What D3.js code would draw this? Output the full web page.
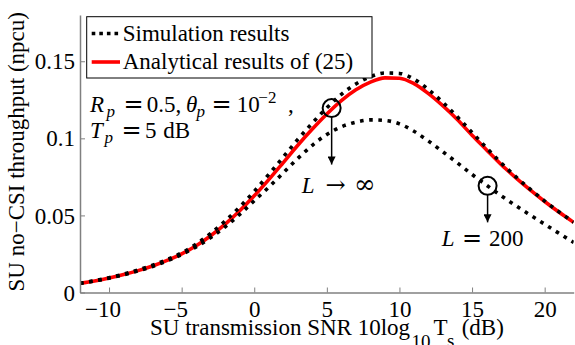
<!DOCTYPE html>
<meta charset="utf-8">
<script src="https://d3js.org/d3.v7.min.js"></script>
<style>
  body { margin: 0; background: #fff; }
  text { font-family: "Liberation Serif", "Times New Roman", serif; fill: #000; }
</style>
<body>
  <div id="container"></div>
</body>
<script>
    // SNR grid (dB) and the three curves
    var snr = [-12,-11,-10,-9,-8,-7,-6,-5,-4,-3,-2,-1,0,1,2,3,4,5,6,7,8,9,10,11,12,13,14,15,16,17,18,19,20,21,22];
    var analytic = [0.006,0.0075,0.0094,0.0116,0.0142,0.0172,0.0208,0.025,0.0303,0.0368,0.0443,0.053,0.0627,0.0732,0.0843,0.0955,0.106,0.1158,0.1245,0.1315,0.1365,0.1392,0.139,0.1355,0.129,0.121,0.112,0.102,0.0925,0.083,0.0745,0.0665,0.059,0.052,0.0455];
    var simInf = [0.006,0.0076,0.0096,0.0119,0.0146,0.0177,0.0214,0.0257,0.0314,0.0384,0.0464,0.0555,0.0656,0.0766,0.0879,0.0993,0.1099,0.1198,0.1285,0.1353,0.14,0.1424,0.1421,0.1384,0.1316,0.1232,0.1138,0.1038,0.0938,0.0841,0.0752,0.067,0.0593,0.0522,0.0456];
    var sim200 = [0.006,0.0075,0.0093,0.0115,0.014,0.0169,0.0205,0.0246,0.0296,0.0356,0.0426,0.0507,0.0595,0.0683,0.0776,0.087,0.0955,0.1025,0.1075,0.1105,0.112,0.1116,0.1094,0.1046,0.0982,0.0912,0.084,0.0766,0.0696,0.0628,0.0564,0.0503,0.0443,0.0383,0.0325];
    var xTicks = [-10,-5,0,5,10,15,20];
    var yTicks = [0,0.05,0.1,0.15];
    var yTickLabels = ["0","0.05","0.1","0.15"];

    var margin = {top: 15, right: 1.3, bottom: 52.5, left: 80},
    width = 575 - margin.left - margin.right,
    height = 345 - margin.top - margin.bottom;

    var svg = d3.select("#container")
      .append("svg")
      .attr("width", 575)
      .attr("height", 345)
      .append("g")
      .attr("transform", "translate(" + margin.left + "," + margin.top + ")");

    var x = d3.scaleLinear().domain([-12, 22]).range([0, width]);
    var y = d3.scaleLinear().domain([0, 0.18]).range([height, 0]);

    svg.append("clipPath").attr("id", "clip")
      .append("rect").attr("width", width).attr("height", height + 2).attr("y", -2);

    // curves
    var line = d3.line()
      .x(function(d, i) { return x(snr[i]); })
      .y(function(d) { return y(d); })
      .curve(d3.curveMonotoneX);

    var curves = svg.append("g").attr("clip-path", "url(#clip)");
    curves.append("path").datum(analytic)
      .attr("d", line).attr("fill", "none")
      .attr("stroke", "#ff0000").attr("stroke-width", 3.6);
    [simInf, sim200].forEach(function(s) {
      curves.append("path").datum(s)
        .attr("d", line).attr("fill", "none")
        .attr("stroke", "#000").attr("stroke-width", 3.6)
        .attr("stroke-dasharray", "3.6,5.6");
    });

    // axes (MATLAB style, ticks inward, no box)
    var xAxis = svg.append("g")
      .attr("transform", "translate(0," + height + ")")
      .call(d3.axisBottom(x).tickValues(xTicks).tickSizeInner(-5).tickSizeOuter(0)
        .tickFormat(function(d) { return d < 0 ? "\u2212" + Math.abs(d) : d; }));
    var yAxis = svg.append("g")
      .call(d3.axisLeft(y).tickValues(yTicks).tickSizeInner(-5).tickSizeOuter(0)
        .tickFormat(function(d, i) { return yTickLabels[i]; }));
    [xAxis, yAxis].forEach(function(a) {
      a.select(".domain").attr("stroke", "#808080").attr("stroke-width", 1.5);
      a.selectAll(".tick line").attr("stroke", "#808080").attr("stroke-width", 1);
      a.selectAll(".tick text").attr("font-family", "Liberation Serif").attr("font-size", 23).attr("fill", "#000");
    });
    // the number is centred on the tick, the minus sign hangs to the left
    xAxis.selectAll(".tick text").attr("y", 24.5).attr("dy", 0)
      .attr("dx", function(d) { return d < 0 ? -6.5 : 0; });
    yAxis.selectAll(".tick text").attr("x", -5).attr("dy", "0.33em");

    // small helper for math-like labels: each piece placed on its own
    function mathText(parent, baseY, parts) {
      var t = parent.append("text").attr("font-size", 23);
      parts.forEach(function(p) {
        t.append("tspan")
          .attr("x", p.x)
          .attr("y", baseY + (p.shift || 0))
          .attr("font-size", p.size || 23)
          .attr("font-style", p.it ? "italic" : null)
          .attr("font-family", p.ff || null)
          .text(p.t);
      });
      return t;
    }

    // axis titles
    mathText(svg, height + 42.5, [
      {t: "SU transmission SNR 10log", x: 70},
      {t: "10", x: 331.5, size: 19, shift: 13},
      {t: "T", x: 353.5},
      {t: "s", x: 367, size: 19, shift: 12},
      {t: "(dB)", x: 381.7}
    ]);

    svg.append("text")
      .attr("transform", "rotate(-90)")
      .attr("x", -height / 2 + 2).attr("y", -56.5)
      .attr("text-anchor", "middle")
      .attr("font-size", 23)
      .text("SU no\u2212CSI throughput (npcu)");

    // legend
    var lg = svg.append("g").attr("transform", "translate(6.7,1.7)");
    lg.append("rect").attr("width", 285.3).attr("height", 61.3)
      .attr("fill", "#fff").attr("stroke", "#000").attr("stroke-width", 1);
    lg.append("line").attr("x1", 5).attr("x2", 33.3).attr("y1", 16.8).attr("y2", 16.8)
      .attr("stroke", "#000").attr("stroke-width", 3.6).attr("stroke-dasharray", "3.6,4");
    lg.append("line").attr("x1", 5).attr("x2", 33.3).attr("y1", 45.3).attr("y2", 45.3)
      .attr("stroke", "#ff0000").attr("stroke-width", 3.6);
    lg.append("text").attr("x", 36).attr("y", 24).attr("font-size", 23).text("Simulation results");
    lg.append("text").attr("x", 36).attr("y", 52.3).attr("font-size", 23).text("Analytical results of (25)");

    // parameter text
    var op = "DejaVu Serif";
    mathText(svg, 96.7, [
      {t: "R", x: 10, it: true},
      {t: "p", x: 26.5, it: true, size: 17, shift: 5},
      {t: "=", x: 43.5, ff: op, size: 24},
      {t: "0.5,", x: 66.7},
      {t: "\u03b8", x: 106, it: true},
      {t: "p", x: 116.5, it: true, size: 17, shift: 5},
      {t: "=", x: 131.5, ff: op, size: 24},
      {t: "10", x: 156.7},
      {t: "\u22122", x: 178.3, size: 17, shift: -8.5},
      {t: ",", x: 208}
    ]);
    mathText(svg, 123.3, [
      {t: "T", x: 10, it: true},
      {t: "p", x: 24.5, it: true, size: 17, shift: 5},
      {t: "=", x: 41.5, ff: op, size: 24},
      {t: "5", x: 65},
      {t: "dB", x: 83.3}
    ]);

    // markers with arrows
    var marks = [
      {sx: 5.33, sy: 0.1196, end: 0.083},
      {sx: 16.07, sy: 0.0692, end: 0.0455}
    ];
    var defs = svg.append("defs");
    defs.append("marker").attr("id", "ah").attr("viewBox", "0 0 10 10")
      .attr("refX", 10).attr("refY", 5)
      .attr("markerUnits", "userSpaceOnUse").attr("orient", "auto")
      .attr("markerWidth", 9).attr("markerHeight", 8)
      .append("path").attr("d", "M0,0 L10,5 L0,10 Z").attr("fill", "#000");

    marks.forEach(function(m) {
      svg.append("circle").attr("cx", x(m.sx)).attr("cy", y(m.sy)).attr("r", 9)
        .attr("fill", "none").attr("stroke", "#000").attr("stroke-width", 2);
      svg.append("line").attr("x1", x(m.sx)).attr("x2", x(m.sx))
        .attr("y1", y(m.sy) + 9).attr("y2", y(m.end))
        .attr("stroke", "#000").attr("stroke-width", 1.5).attr("marker-end", "url(#ah)");
    });

    mathText(svg, 178.3, [
      {t: "L", x: 221.7, it: true},
      {t: "\u2192", x: 245.5, ff: op, size: 24},
      {t: "\u221e", x: 274, ff: op, size: 26}
    ]);
    mathText(svg, 231, [
      {t: "L", x: 361.7, it: true},
      {t: "=", x: 382, ff: op, size: 24},
      {t: "200", x: 409}
    ]);
</script>
